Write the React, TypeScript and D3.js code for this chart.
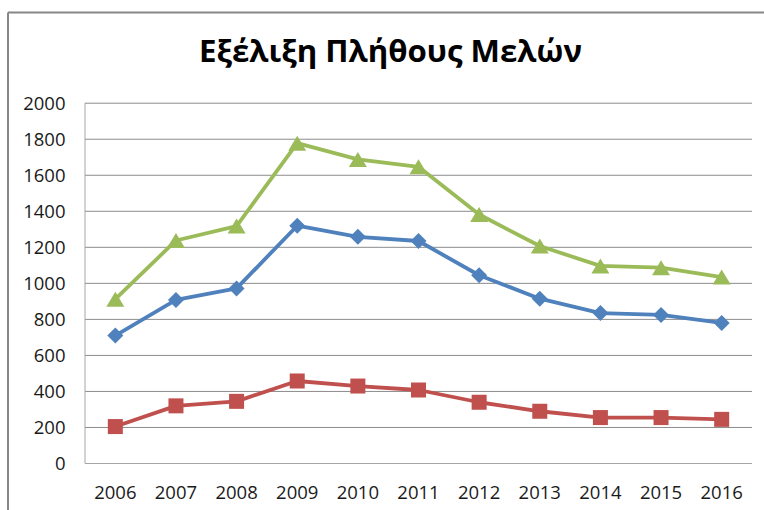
import React from "react";
import * as d3 from "d3";

const years = ["2006","2007","2008","2009","2010","2011","2012","2013","2014","2015","2016"];
const blueValues = [710, 908, 972, 1320, 1258, 1235, 1045, 915, 835, 825, 780];
const redValues = [205, 320, 345, 458, 430, 408, 340, 290, 255, 255, 245];
const greenValues = [912, 1238, 1318, 1778, 1688, 1647, 1382, 1207, 1097, 1087, 1035];
const yTicks = [0, 200, 400, 600, 800, 1000, 1200, 1400, 1600, 1800, 2000];
const title = "Εξέλιξη Πλήθους Μελών";

const W = 764, H = 510;
const plot = { left: 85, right: 752, top: 103.2, bottom: 463.5 };

export default function App() {
  const x = d3.scaleBand<string>().domain(years).range([plot.left, plot.right]).padding(0);
  const y = d3.scaleLinear().domain([0, 2000]).range([plot.bottom, plot.top]);
  const cx = (yr: string) => (x(yr) as number) + x.bandwidth() / 2;
  const line = d3.line<number>().x((_, i) => cx(years[i])).y((v) => y(v));

  const diamond = (px: number, py: number) => {
    const r = 8;
    return `M${px},${py - r}L${px + r},${py}L${px},${py + r}L${px - r},${py}Z`;
  };
  const triangle = (px: number, py: number) => {
    const hw = 9, hh = 7.5;
    return `M${px},${py - hh}L${px + hw},${py + hh}L${px - hw},${py + hh}Z`;
  };

  const blue = "#4F81BD", red = "#C0504D", green = "#9BBB59";
  const font = "'Open Sans', sans-serif";

  return (
    <svg width={W} height={H} style={{ position: "absolute", left: 0, top: 0, background: "#fff" }}>
      <rect x={0} y={0} width={W} height={H} fill="#fff" />
      <line x1={8} y1={12.5} x2={W} y2={12.5} stroke="#868686" strokeWidth={2} />
      <line x1={8} y1={12.5} x2={8} y2={H} stroke="#868686" strokeWidth={2} />
      <text
        x={390.5}
        y={62}
        textAnchor="middle"
        fontFamily={font}
        fontWeight={700}
        fontSize={30}
        textLength={383}
        lengthAdjust="spacingAndGlyphs"
        fill="#000"
      >
        {title}
      </text>
      {yTicks.map((t) => (
        <line key={t} x1={plot.left} x2={plot.right} y1={y(t)} y2={y(t)} stroke={t === 0 ? "#A6A6A6" : "#8C8C8C"} strokeWidth={1} />
      ))}
      <line x1={plot.left} x2={plot.left} y1={plot.top} y2={plot.bottom} stroke="#A6A6A6" strokeWidth={1} />
      {yTicks.map((t) => (
        <text key={"l" + t} x={65.5} y={y(t)} dy="0.36em" textAnchor="end" fontFamily={font} fontSize={18.5} fill="#1a1a1a">
          {t}
        </text>
      ))}
      {years.map((yr) => (
        <text key={yr} x={cx(yr)} y={498.5} textAnchor="middle" fontFamily={font} fontSize={18.5} fill="#1a1a1a">
          {yr}
        </text>
      ))}
      <path d={line(greenValues) || ""} fill="none" stroke={green} strokeWidth={3.8} strokeLinejoin="round" />
      <path d={line(blueValues) || ""} fill="none" stroke={blue} strokeWidth={3.8} strokeLinejoin="round" />
      <path d={line(redValues) || ""} fill="none" stroke={red} strokeWidth={3.8} strokeLinejoin="round" />
      {greenValues.map((v, i) => (
        <path key={"g" + i} d={triangle(cx(years[i]), y(v))} fill={green} />
      ))}
      {blueValues.map((v, i) => (
        <path key={"b" + i} d={diamond(cx(years[i]), y(v))} fill={blue} />
      ))}
      {redValues.map((v, i) => (
        <rect key={"r" + i} x={cx(years[i]) - 7.5} y={y(v) - 7.5} width={15} height={15} fill={red} />
      ))}
    </svg>
  );
}
